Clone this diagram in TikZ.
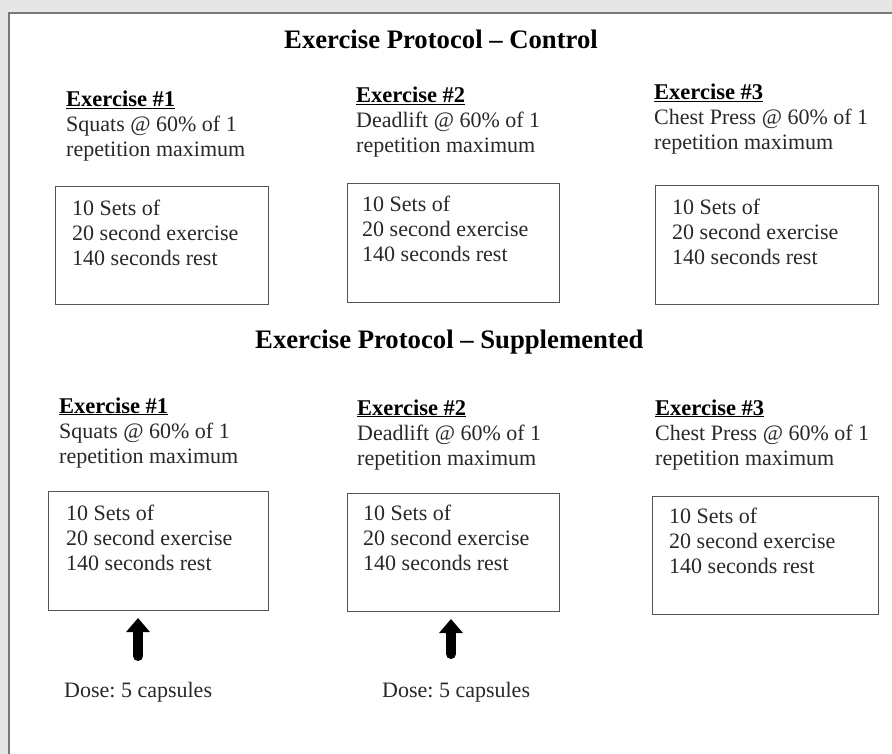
\documentclass[tikz,border=0pt]{standalone}
\usepackage{fontspec}
\setmainfont{Liberation Serif}
\usetikzlibrary{arrows.meta}
\definecolor{bggray}{RGB}{230,230,230}
\definecolor{framegray}{RGB}{120,120,120}
\definecolor{boxgray}{RGB}{85,85,85}
\definecolor{txt}{RGB}{40,40,40}
\frenchspacing
\newcommand\stackthree[3]{\vtop{\baselineskip=25pt\hbox{#1}\hbox{#2}\hbox{#3}}}
\newcommand\exhead[1]{{\color{black}\fontsize{22.5}{25}\selectfont\bfseries\underline{Exercise \##1}}}
\begin{document}
\begin{tikzpicture}[x=1pt,y=-1pt,
  body/.style={text=txt, font=\fontsize{22}{25}\selectfont, inner sep=0pt, anchor=base west},
  ttl/.style={text=black, font=\fontsize{26.7}{30}\selectfont\bfseries, inner sep=0pt, anchor=base west},
  setbox/.style={draw=boxgray, line width=1pt, anchor=north west, inner sep=0pt},
  dosearrow/.style={line width=10pt, line cap=round, -{Triangle[length=14pt,width=23pt]}, shorten >=7pt}]
\useasboundingbox (0,0) rectangle (892,754);
\clip (0,0) rectangle (892,754);
\fill[bggray] (0,0) rectangle (892,754);
\draw[framegray, line width=2pt, fill=white] (9,13) rectangle (905,775);

% Control
\node[ttl] (t1) at (284,49) {Exercise Protocol – Control};
\node[body] (ch1) at (66,107) {\stackthree{\exhead{1}}{Squats @ 60\% of 1}{repetition maximum}};
\node[body] (ch2) at (356,103) {\stackthree{\exhead{2}}{Deadlift @ 60\% of 1}{repetition maximum}};
\node[body] (ch3) at (654,100) {\stackthree{\exhead{3}}{Chest Press @ 60\% of 1}{repetition maximum}};

\node[setbox, minimum width=213pt, minimum height=118pt] (c1) at (55,186) {};
\node[setbox, minimum width=212pt, minimum height=119pt] (c2) at (347,183) {};
\node[setbox, minimum width=223pt, minimum height=119pt] (c3) at (655,185) {};
\node[body] (c1t) at (72,216) {\stackthree{10 Sets of}{20 second exercise}{140 seconds rest}};
\node[body] (c2t) at (362,212) {\stackthree{10 Sets of}{20 second exercise}{140 seconds rest}};
\node[body] (c3t) at (672,215) {\stackthree{10 Sets of}{20 second exercise}{140 seconds rest}};

% Supplemented
\node[ttl] (t2) at (255,348) {Exercise Protocol – Supplemented};
\node[body] (sh1) at (59,413) {\stackthree{\exhead{1}}{Squats @ 60\% of 1}{repetition maximum}};
\node[body] (sh2) at (357,415) {\stackthree{\exhead{2}}{Deadlift @ 60\% of 1}{repetition maximum}};
\node[body] (sh3) at (655,415) {\stackthree{\exhead{3}}{Chest Press @ 60\% of 1}{repetition maximum}};

\node[setbox, minimum width=220pt, minimum height=119pt] (s1) at (48,491) {};
\node[setbox, minimum width=212pt, minimum height=118pt] (s2) at (347,493) {};
\node[setbox, minimum width=226pt, minimum height=118pt] (s3) at (652,496) {};
\node[body] (s1t) at (66,520) {\stackthree{10 Sets of}{20 second exercise}{140 seconds rest}};
\node[body] (s2t) at (363,520) {\stackthree{10 Sets of}{20 second exercise}{140 seconds rest}};
\node[body] (s3t) at (669,523) {\stackthree{10 Sets of}{20 second exercise}{140 seconds rest}};

% Doses
\node[body] (d1) at (64,697) {Dose: 5 capsules};
\node[body] (d2) at (382,697) {Dose: 5 capsules};
\coordinate (a1) at (138,656);
\coordinate (a2) at (451,654);
\draw[dosearrow] (a1) -- (a1 |- s1.south);
\draw[dosearrow] (a2) -- (a2 |- s2.south);
\end{tikzpicture}
\end{document}
